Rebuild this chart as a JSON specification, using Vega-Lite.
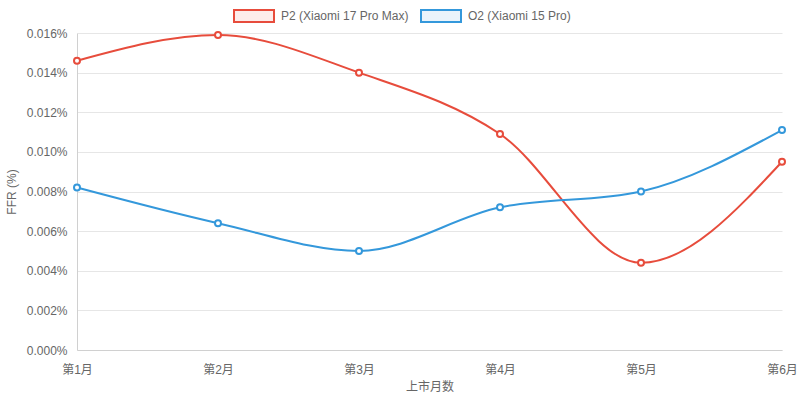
{
  "$schema": "https://vega.github.io/schema/vega-lite/v6.json",
  "width": 705,
  "height": 317,
  "autosize": {"type": "none"},
  "padding": {"left": 77, "top": 33, "right": 18, "bottom": 51},
  "config": {
    "font": "Liberation Sans, Noto Sans CJK SC",
    "view": {"stroke": null},
    "axis": {
      "labelColor": "#666666",
      "labelFontSize": 12,
      "titleColor": "#666666",
      "titleFontSize": 12,
      "titleFontWeight": "normal",
      "gridColor": "#e6e6e6",
      "domainColor": "#d0d0d0",
      "ticks": false
    }
  },
  "data": {
    "values": [
      {"month": "第1月", "series": "P2 (Xiaomi 17 Pro Max)", "ffr": 0.0146},
      {"month": "第2月", "series": "P2 (Xiaomi 17 Pro Max)", "ffr": 0.0159},
      {"month": "第3月", "series": "P2 (Xiaomi 17 Pro Max)", "ffr": 0.0140},
      {"month": "第4月", "series": "P2 (Xiaomi 17 Pro Max)", "ffr": 0.0109},
      {"month": "第5月", "series": "P2 (Xiaomi 17 Pro Max)", "ffr": 0.0044},
      {"month": "第6月", "series": "P2 (Xiaomi 17 Pro Max)", "ffr": 0.0095},
      {"month": "第1月", "series": "O2 (Xiaomi 15 Pro)", "ffr": 0.0082},
      {"month": "第2月", "series": "O2 (Xiaomi 15 Pro)", "ffr": 0.0064},
      {"month": "第3月", "series": "O2 (Xiaomi 15 Pro)", "ffr": 0.0050},
      {"month": "第4月", "series": "O2 (Xiaomi 15 Pro)", "ffr": 0.0072},
      {"month": "第5月", "series": "O2 (Xiaomi 15 Pro)", "ffr": 0.0080},
      {"month": "第6月", "series": "O2 (Xiaomi 15 Pro)", "ffr": 0.0111}
    ]
  },
  "encoding": {
    "x": {
      "field": "month",
      "type": "ordinal",
      "sort": ["第1月", "第2月", "第3月", "第4月", "第5月", "第6月"],
      "scale": {"type": "point", "padding": 0},
      "axis": {"title": "上市月数", "labelAngle": 0, "grid": false, "labelPadding": 14, "titlePadding": 6}
    },
    "y": {
      "field": "ffr",
      "type": "quantitative",
      "scale": {"domain": [0, 0.016]},
      "axis": {
        "title": "FFR (%)",
        "values": [0, 0.002, 0.004, 0.006, 0.008, 0.01, 0.012, 0.014, 0.016],
        "labelExpr": "format(datum.value, '.3f') + '%'",
        "labelPadding": 10,
        "titlePadding": 8
      }
    },
    "color": {
      "field": "series",
      "type": "nominal",
      "scale": {
        "domain": ["P2 (Xiaomi 17 Pro Max)", "O2 (Xiaomi 15 Pro)"],
        "range": ["#e74c3c", "#3498db"]
      },
      "legend": {
        "title": null,
        "orient": "none",
        "direction": "horizontal",
        "legendX": 156,
        "legendY": -38,
        "symbolType": "M-1,-0.3H1V0.3H-1Z",
        "symbolSize": 1600,
        "symbolStrokeWidth": 2,
        "labelColor": "#666666",
        "labelFontSize": 12,
        "labelOffset": 6,
        "columnPadding": 8,
        "encode": {
          "symbols": {
            "update": {
              "fill": {"scale": "color", "field": "value"},
              "fillOpacity": {"value": 0.1},
              "stroke": {"scale": "color", "field": "value"},
              "strokeWidth": {"value": 2},
              "opacity": {"value": 1}
            }
          }
        }
      }
    }
  },
  "layer": [
    {"mark": {"type": "line", "interpolate": "monotone", "strokeWidth": 2}},
    {"mark": {"type": "point", "filled": false, "size": 36, "strokeWidth": 2, "fill": "white", "opacity": 1}}
  ]
}
